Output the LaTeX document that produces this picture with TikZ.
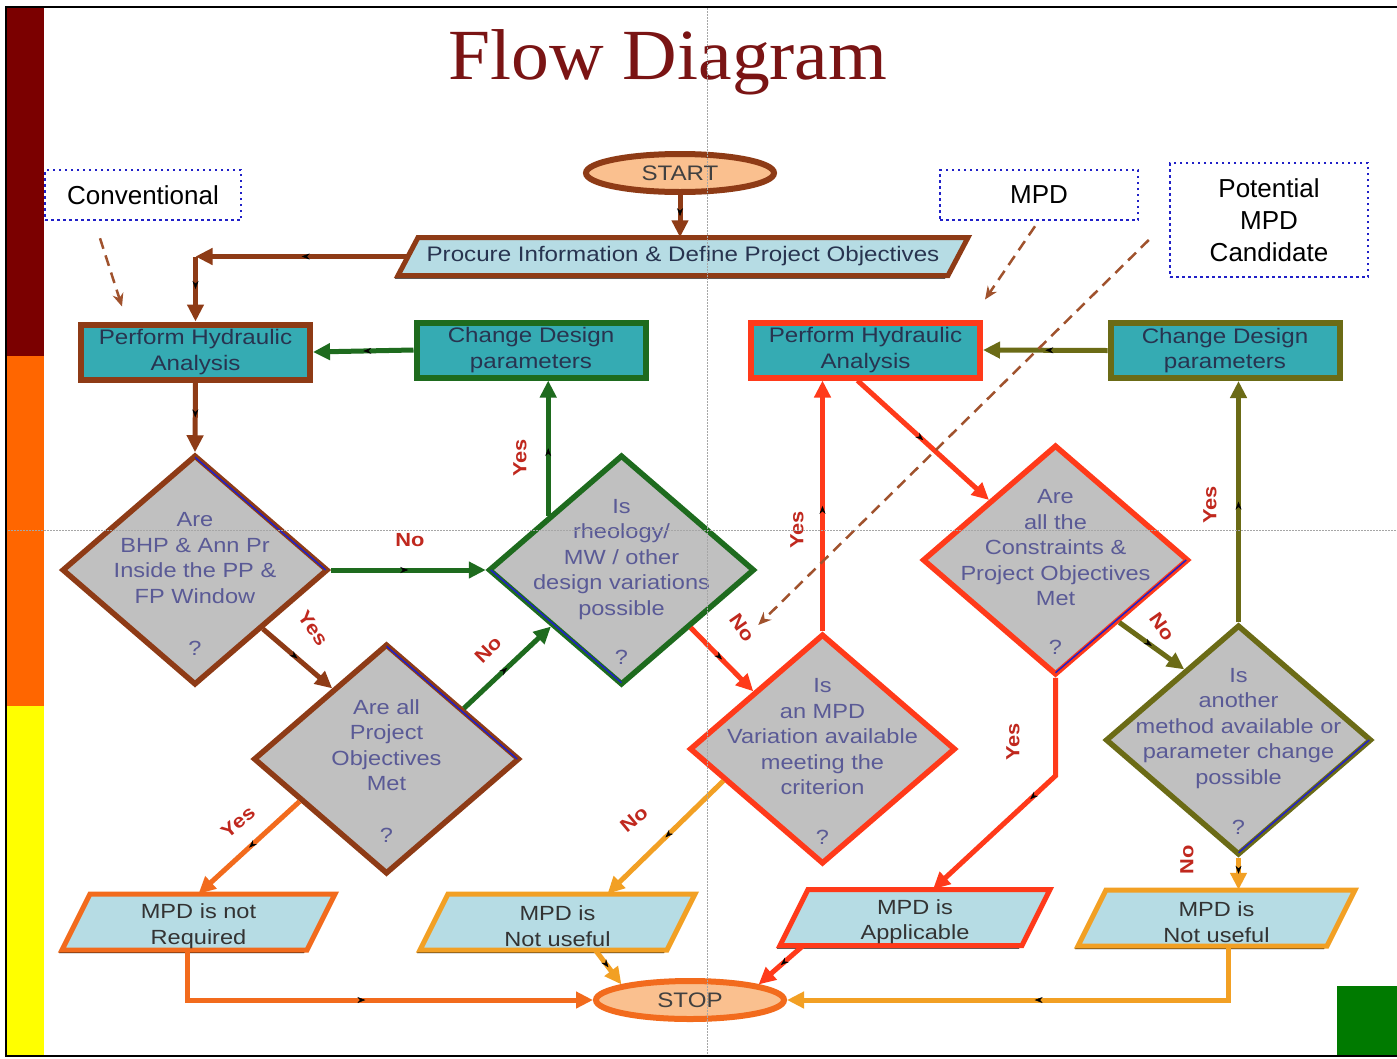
\documentclass[tikz,border=0pt]{standalone}
\usepackage{fontspec}
\setmainfont{Liberation Sans}
\newfontfamily\boxfont[FakeStretch=1.15]{Liberation Sans}
\newfontfamily\titlefont[FakeStretch=1.05]{Liberation Serif}
\usetikzlibrary{shapes.geometric,arrows.meta,calc,decorations.markings}
\definecolor{barred}{HTML}{7B0000}
\definecolor{barorange}{HTML}{FF6600}
\definecolor{baryellow}{HTML}{FFFF00}
\definecolor{sqgreen}{HTML}{007A00}
\definecolor{brownc}{HTML}{8E3B16}
\definecolor{greenc}{HTML}{1E6B1E}
\definecolor{redc}{HTML}{FF3A1A}
\definecolor{olivec}{HTML}{6B6B16}
\definecolor{orangec}{HTML}{F26B1D}
\definecolor{amberc}{HTML}{F2A024}
\definecolor{tealc}{HTML}{35ABB3}
\definecolor{lblue}{HTML}{B6DCE4}
\definecolor{grayfill}{HTML}{C0C0C0}
\definecolor{peach}{HTML}{FAC08F}
\definecolor{boxtext}{HTML}{283450}
\definecolor{diatext}{HTML}{5A5A96}
\definecolor{labred}{HTML}{C0281E}
\definecolor{titlec}{HTML}{7A1414}
\definecolor{dotblue}{HTML}{2020C8}
\definecolor{dashbrown}{HTML}{A0522D}
\newcommand\mypara[8]{%
  \fill[black] (#2-#4/2+#6-3,#3-#5/2+3) -- (#2+#4/2+#6-3,#3-#5/2+3) -- (#2+#4/2-#6-3,#3+#5/2+3) -- (#2-#4/2-#6-3,#3+#5/2+3) -- cycle;
  \filldraw[fill=lblue,draw=#7,line width=5pt,line join=miter] (#2-#4/2+#6,#3-#5/2) -- (#2+#4/2+#6,#3-#5/2) -- (#2+#4/2-#6,#3+#5/2) -- (#2-#4/2-#6,#3+#5/2) -- cycle;
  \node[inner sep=0pt,minimum width=#4,minimum height=#5] (#1) at (#2,#3) {};
  \node[paratext] (#1t) at (#2,#3+4) {#8};
}
\begin{document}
\begin{tikzpicture}[x=1pt,y=-1pt,
  paratext/.style={inner sep=0pt,align=center,text=black!80,font=\boxfont\fontsize{20.5}{25.5}\selectfont},
  boxnode/.style={rectangle,fill=tealc,line width=6pt,minimum width=229pt,minimum height=55pt,inner sep=0pt,align=center,text=boxtext,font=\boxfont\fontsize{21}{25.5}\selectfont},
  dia/.style={diamond,fill=grayfill,line width=5.5pt,minimum width=266pt,minimum height=230pt,inner sep=0pt},
  diatxt/.style={align=center,text=diatext,inner sep=0pt,font=\boxfont\fontsize{20.5}{25.5}\selectfont},
  term/.style={ellipse,fill=peach,line width=6pt,minimum width=188pt,minimum height=38pt,inner sep=0pt,text=black!75,font=\boxfont\fontsize{21}{24}\selectfont},
  lab/.style={text=labred,inner sep=0pt,font=\boxfont\bfseries\fontsize{19}{22}\selectfont},
  note/.style={draw=dotblue,line width=2.5pt,dash pattern=on 2.5pt off 3.5pt,align=center,inner sep=0pt,font=\fontsize{26}{32}\selectfont},
  conn/.style={line width=5pt,-{Triangle[length=17pt,width=16pt]},
    postaction={decorate,decoration={markings,mark=at position 0.5 with {\arrow[black,line width=0.5pt]{Stealth[length=8pt,width=6pt]}}}}},
  dasharr/.style={draw=dashbrown,line width=2.5pt,dash pattern=on 11pt off 7pt,-{Stealth[length=13pt,width=11pt]}},
  guide/.style={draw=gray!70,line width=0.8pt,dash pattern=on 1.5pt off 1.5pt}]
\useasboundingbox (0,0) rectangle (1397,1058);
\fill[white] (0,0) rectangle (1397,1058);
% side bars and frame
\fill[barred] (7,8) rectangle (44,356);
\fill[barorange] (7,356) rectangle (44,706);
\fill[baryellow] (7,706) rectangle (44,1055);
\fill[sqgreen] (1337,986) rectangle (1397,1055);
\draw[black,line width=1.5pt] (1397,7) -- (6,7) -- (6,1056) -- (1397,1056);
% title
\node[text=titlec,font=\titlefont\fontsize{72}{80}\selectfont,inner sep=0pt] (title) at (668,62) {Flow Diagram};
% annotation boxes
\node[note,minimum width=196pt,minimum height=50pt] (conv) at (143,195) {Conventional};
\node[note,minimum width=198pt,minimum height=50pt] (mpd) at (1039,195) {MPD};
\node[note,minimum width=198pt,minimum height=114pt] (pot) at (1269,220) {Potential\\MPD\\Candidate};
% start / procure
\node[term,draw=brownc] (start) at (680,173) {START};
\mypara{proc}{683}{256.5}{550}{38}{10}{brownc}{}
\node[inner sep=0pt,text=boxtext,font=\boxfont\fontsize{21}{25}\selectfont] (proct) at (proc.center) {Procure Information \& Define Project Objectives};
% boxes
\node[boxnode,draw=brownc] (lp) at (195.5,352) {Perform Hydraulic\\Analysis};
\node[boxnode,draw=greenc] (lcd) at (531,350) {Change Design\\parameters};
\node[boxnode,draw=redc] (rp) at (865.5,350) {Perform Hydraulic\\Analysis};
\node[boxnode,draw=olivec] (rcd) at (1225,350.5) {Change Design\\parameters};
% diamonds
\node[dia,draw=brownc] (d1) at (195,570) {};
\node[dia,draw=brownc] (d2) at (386.5,759) {};
\node[dia,draw=greenc] (d3) at (621.5,570) {};
\node[dia,draw=redc] (d4) at (822.5,749) {};
\node[dia,draw=redc] (d5) at (1055.5,560) {};
\node[dia,draw=olivec] (d6) at (1238.5,740) {};
\draw[dotblue,line width=1.5pt] ($(d1.north)!5pt!(d1.south)$) -- ($(d1.east)!5pt!(d1.west)$);
\draw[dotblue,line width=1.5pt] ($(d2.north)!5pt!(d2.south)$) -- ($(d2.east)!5pt!(d2.west)$);
\draw[dotblue,line width=1.5pt] ($(d3.west)!5pt!(d3.east)$) -- ($(d3.south)!5pt!(d3.north)$);
\draw[dotblue,line width=1.5pt] ($(d5.east)!5pt!(d5.west)$) -- ($(d5.south)!5pt!(d5.north)$);
\draw[dotblue,line width=1.5pt] ($(d6.east)!5pt!(d6.west)$) -- ($(d6.south)!5pt!(d6.north)$);
\node[diatxt] (d1t) at (195,584) {Are\\BHP \& Ann Pr\\Inside the PP \&\\FP Window\\[27pt]?};
\node[diatxt] (d2t) at (386.5,771) {Are all\\Project\\Objectives\\Met\\[26pt]?};
\node[diatxt] (d3t) at (621.5,582) {Is\\rheology/\\MW / other\\design variations\\possible\\[24pt]?};
\node[diatxt] (d4t) at (822.5,761.5) {Is\\an MPD\\Variation available\\meeting the\\criterion\\[24pt]?};
\node[diatxt] (d5t) at (1055.5,572) {Are\\all the\\Constraints \&\\Project Objectives\\Met\\[23pt]?};
\node[diatxt] (d6t) at (1238.5,751.5) {Is\\another\\method available or\\parameter change\\possible\\[25pt]?};
% result parallelograms
\mypara{nr}{198.5}{922}{245}{56}{14}{orangec}{MPD is not\\Required}
\mypara{nu1}{557.5}{922}{247}{56}{14}{amberc}{MPD is\\Not useful}
\mypara{app}{915}{917.5}{242}{56}{14}{redc}{MPD is\\Applicable}
\mypara{nu2}{1216.5}{918}{249}{56}{14}{amberc}{MPD is\\Not useful}
\node[term,draw=orangec] (stop) at (690,1000) {STOP};
% connectors
\draw[conn,brownc] (start.south) -- (start.south |- proc.north);
\draw[conn,brownc] (proc.west) -- (lp.north |- proc.west);
\draw[conn,brownc] (lp.north |- proc.west) -- (lp.north);
\draw[conn,greenc] (lcd.west) -- (lp.east);
\draw[conn,brownc] (lp.south) -- (d1.north);
\draw[conn,greenc] (d1.east) -- (d3.west);
\draw[conn,brownc] ($(d1.east)!0.5!(d1.south)$) -- ($(d2.west)!0.6!(d2.north)$);
\draw[conn,greenc] ($(d2.north)!0.57!(d2.east)$) -- ($(d3.west)!0.48!(d3.south)$);
\coordinate (a3) at ($(d3.west)!0.46!(d3.north)$);
\draw[conn,greenc] (a3) -- (a3 |- lcd.south);
\draw[conn,redc] ($(d3.east)!0.49!(d3.south)$) -- ($(d4.west)!0.49!(d4.north)$);
\draw[conn,redc] (d4.north) -- (d4.north |- rp.south);
\draw[conn,redc] ([xshift=-8pt]rp.south) -- ($(d5.west)!0.51!(d5.north)$);
\draw[conn,olivec] ($(d5.east)!0.53!(d5.south)$) -- ($(d6.west)!0.6!(d6.north)$);
\draw[conn,olivec] (d6.north) -- (d6.north |- rcd.south);
\draw[conn,olivec] (rcd.west) -- (rp.east);
\draw[conn,redc] (d5.south) -- ++(0,98) -- ([xshift=18pt]app.north);
\draw[conn,orangec] ($(d2.west)!0.36!(d2.south)$) -- (nr.north);
\draw[conn,amberc] ($(d4.west)!0.27!(d4.south)$) -- ([xshift=50pt]nu1.north);
\draw[conn,amberc] (d6.south) -- (d6.south |- nu2.north);
\draw[conn,orangec] ([xshift=-11pt]nr.south) |- (stop.west);
\draw[conn,amberc] ([xshift=38pt]nu1.south) -- (stop.north west);
\draw[conn,redc] ([xshift=-112pt]app.south) -- (stop.north east);
\draw[conn,amberc] ([xshift=12pt]nu2.south) |- (stop.east);
% dashed pointers
\draw[dasharr] ($(conv.south)+(-43,17)$) -- ($(lp.north west)+(44,-15)$);
\draw[dasharr] ($(mpd.south)+(-4,5)$) -- ($(rp.north east)+(2,-20)$);
\draw[dasharr] ($(pot.west)+(-20,20)$) -- ($(d3.east)+(1,55)$);
% labels
\node[lab] (l1) at (410,540) {No};
\node[lab,rotate=-55] (l2) at (313,628) {Yes};
\node[lab,rotate=45] (l3) at (488,650) {No};
\node[lab,rotate=90] (l4) at (520,458) {Yes};
\node[lab,rotate=-55] (l5) at (742,628) {No};
\node[lab,rotate=90] (l6) at (797,530) {Yes};
\node[lab,rotate=-55] (l7) at (1162,627) {No};
\node[lab,rotate=90] (l8) at (1210,505) {Yes};
\node[lab,rotate=90] (l9) at (1013,742) {Yes};
\node[lab,rotate=40] (l10) at (238,822) {Yes};
\node[lab,rotate=40] (l11) at (634,819) {No};
\node[lab,rotate=90] (l12) at (1187,860) {No};
% guide lines
\draw[guide] (707,8) -- (707,1055);
\draw[guide] (8,530) -- (1397,530);
\end{tikzpicture}
\end{document}
